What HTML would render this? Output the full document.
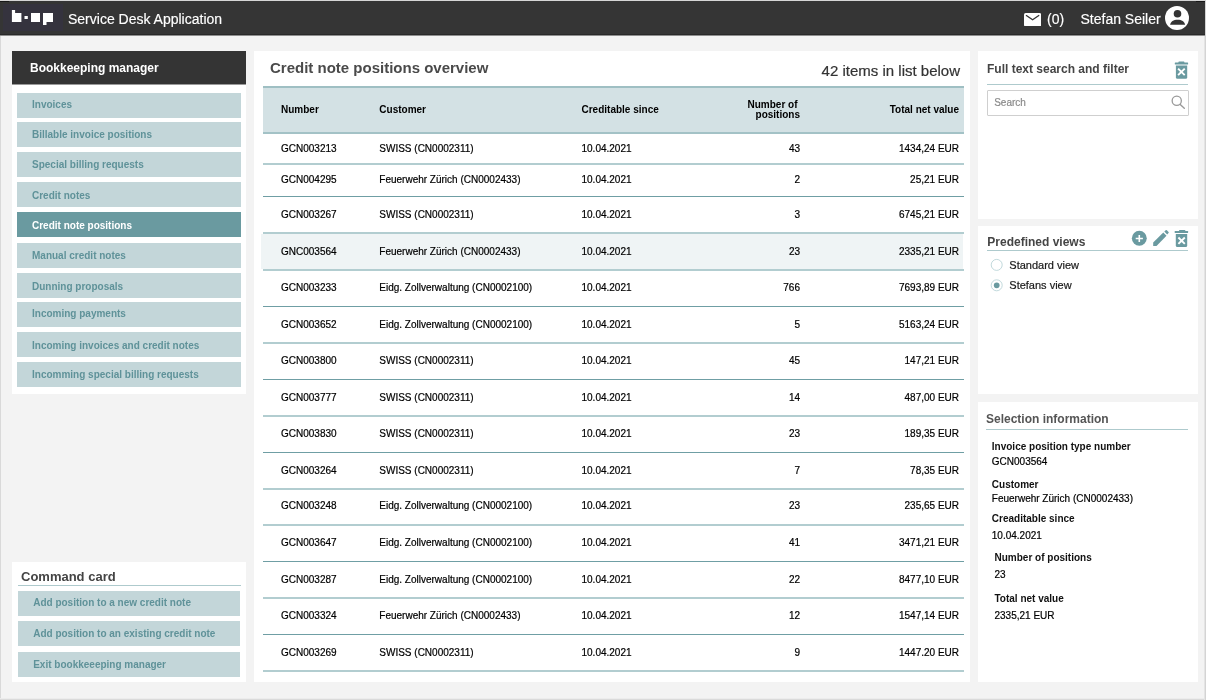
<!DOCTYPE html>
<html><head><meta charset="utf-8">
<style>
*{margin:0;padding:0;box-sizing:border-box}
html,body{width:1206px;height:700px;overflow:hidden}
body{background:#f3f3f3;font-family:"Liberation Sans",Arial,Helvetica,sans-serif;position:relative;color:#111}
.a{position:absolute}
.frameL{left:0;top:35px;width:1px;height:665px;background:#d9d9d9}
.frameR{left:1205px;top:0;width:1px;height:700px;background:#d4d4d4}
.frameR2{left:1204px;top:35px;width:1px;height:665px;background:#e4e4e4}
.frameB{left:0;top:699px;width:1206px;height:1px;background:#dadada}
.frameB2{left:0;top:698px;width:1206px;height:1px;background:#ececec}
.topbar{left:0;top:1px;width:1205px;height:34px;background:#353535;border-bottom:1px solid #292929}
.topbar2{left:0;top:35px;width:1205px;height:1px;background:#8e8e8e}
.topline{top:1px;height:1px;background:#181818}
.logo{left:3px;top:4px;width:60px;height:27px;background:#35333e}
.bar-t{color:#fff;-webkit-text-stroke:0.15px;font-size:14px;line-height:16px;white-space:nowrap}
.panel{background:#fff}
.nav{left:17px;width:224px;background:#c3d6d9;color:#5f9299;font-weight:bold;font-size:10px;line-height:12px;padding-left:15px;white-space:nowrap}
.nav.act{background:#6a9aa0;color:#fff}
.ptitle{font-weight:bold;font-size:12px;color:#454545;white-space:nowrap;line-height:14px}
.uline{height:1px;background:#aecacd}
.th{font-weight:bold;font-size:10px;color:#000;line-height:12px;white-space:nowrap}
.td{font-size:10px;color:#000;-webkit-text-stroke:0.2px;line-height:12px;white-space:nowrap}
.r{text-align:right}
.lbl{font-weight:bold;font-size:10px;color:#111;line-height:12px;white-space:nowrap}
.val{font-size:10px;color:#000;-webkit-text-stroke:0.2px;line-height:12px;white-space:nowrap}
.rg{-webkit-text-stroke:0.2px}
#root{position:absolute;left:0;top:0;width:1206px;height:700px;will-change:transform}
</style></head><body>
<div id="root">
<div class="a" style="left:0;top:0;width:1206px;height:1px;background:#d6d6d6"></div>
<div class="a frameL"></div>
<div class="a frameB2"></div>
<div class="a frameB"></div>
<div class="a frameR2"></div>

<!-- TOP BAR -->
<div class="a topbar"></div>
<div class="a topbar2"></div>
<div class="a topline" style="left:0;width:9px"></div>
<div class="a topline" style="left:1196px;width:9px"></div>
<div class="a frameR"></div>
<div class="a logo"></div>
<svg class="a" style="left:0;top:0" width="70" height="35" viewBox="0 0 70 35">
  <path fill="#fff" d="M11.9 9.9h3.2v3.1H21.4v8.9h-9.5z"/>
  <rect fill="#fff" x="24.5" y="16" width="3.3" height="3"/>
  <rect fill="#fff" x="31" y="13" width="9" height="9"/>
  <path fill="#fff" d="M43 13h10v9h-6.5v3H43z"/>
</svg>
<div class="a bar-t" style="left:68px;top:11px">Service Desk Application</div>
<svg class="a" style="left:1024px;top:12.8px" width="17.2" height="13.4" viewBox="0 0 17.2 13.4">
  <rect x="0" y="0" width="17.2" height="13.4" rx="1.6" fill="#fff"/>
  <path d="M2 2.2 L8.6 6.7 L15.2 2.2" fill="none" stroke="#333" stroke-width="1.3"/>
</svg>
<div class="a bar-t" style="left:1047px;top:11px">(0)</div>
<div class="a bar-t" style="left:1080.5px;top:11px">Stefan Seiler</div>
<svg class="a" style="left:1164.8px;top:6.1px" width="24" height="24" viewBox="0 0 24 24">
  <circle cx="12" cy="12" r="12" fill="#fff"/>
  <circle cx="12.5" cy="7.8" r="3.8" fill="#333"/>
  <path d="M5.1 18.8 C5.6 15.5 8.5 13.7 12.6 13.7 C16.7 13.7 19.6 15.5 20.1 18.8 Z" fill="#333"/>
</svg>

<!-- LEFT PANEL -->
<div class="a panel" style="left:12px;top:51px;width:234px;height:343px"></div>
<div class="a" style="left:12px;top:51px;width:234px;height:33px;background:#343434"></div>
<div class="a" style="left:12px;top:84px;width:234px;height:1px;background:#9a9a9a"></div>
<div class="a" style="left:30px;top:61px;color:#fff;font-weight:bold;font-size:12px;line-height:14px;white-space:nowrap">Bookkeeping manager</div>
<div class="a nav" style="top:93px;height:24.85px;padding-top:6px">Invoices</div>
<div class="a nav" style="top:122.1px;height:24.9px;padding-top:6.5px">Billable invoice positions</div>
<div class="a nav" style="top:152.1px;height:24.9px;padding-top:6.8px">Special billing requests</div>
<div class="a nav" style="top:182.3px;height:24.8px;padding-top:7.7px">Credit notes</div>
<div class="a nav act" style="top:212.1px;height:24.9px;padding-top:7.7px">Credit note positions</div>
<div class="a nav" style="top:243px;height:24.7px;padding-top:7px">Manual credit notes</div>
<div class="a nav" style="top:272.9px;height:24.8px;padding-top:8.0px">Dunning proposals</div>
<div class="a nav" style="top:302.3px;height:24.4px;padding-top:5.5px">Incoming payments</div>
<div class="a nav" style="top:332.1px;height:24.8px;padding-top:7.9px">Incoming invoices and credit notes</div>
<div class="a nav" style="top:362.3px;height:24.4px;padding-top:6.7px">Incomming special billing requests</div>

<!-- COMMAND CARD -->
<div class="a panel" style="left:12px;top:562px;width:234px;height:120px"></div>
<div class="a" style="left:21px;top:570px;font-weight:bold;font-size:13px;color:#444;line-height:14px;white-space:nowrap">Command card</div>
<div class="a uline" style="left:18px;top:585px;width:222.8px"></div>
<div class="a nav" style="left:18.2px;width:221.8px;top:590.7px;height:24.9px;padding-top:6.3px;padding-left:15px">Add position to a new credit note</div>
<div class="a nav" style="left:18.2px;width:221.8px;top:621.1px;height:24.6px;padding-top:6.9px;padding-left:15px">Add position to an existing credit note</div>
<div class="a nav" style="left:18.2px;width:221.8px;top:652.1px;height:24.9px;padding-top:6.9px;padding-left:15px">Exit bookkeeeping manager</div>

<!-- CENTER PANEL -->
<div class="a panel" style="left:254px;top:51px;width:716px;height:631px"></div>
<div class="a" style="left:270px;top:59px;font-weight:bold;font-size:15px;color:#4a4a4a;line-height:17px;white-space:nowrap">Credit note positions overview</div>
<div class="a rg" style="left:760px;width:200px;top:62px;font-size:15px;color:#333;line-height:17px;text-align:right;white-space:nowrap">42 items in list below</div>

<!-- TABLE -->
<div class="a" style="left:263px;top:86px;width:701px;height:48px;background:#d3e1e4;border-top:2px solid #9fbfc3;border-bottom:2px solid #a3c2c6"></div>
<div class="a th" style="left:281px;top:104px">Number</div>
<div class="a th" style="left:379.3px;top:104px">Customer</div>
<div class="a th" style="left:581.5px;top:104px">Creditable since</div>
<div class="a th r" style="left:697.5px;width:100px;top:99px">Number of</div>
<div class="a th r" style="left:700px;width:100px;top:108.5px">positions</div>
<div class="a th r" style="left:859px;width:100px;top:104px">Total net value</div>

<!--ROWS-->
<div class="a td" style="left:281px;top:143px">GCN003213</div>
<div class="a td" style="left:379.3px;top:143px">SWISS (CN0002311)</div>
<div class="a td" style="left:581.5px;top:143px">10.04.2021</div>
<div class="a td r" style="left:700px;width:100px;top:143px">43</div>
<div class="a td r" style="left:859px;width:100px;top:143px">1434,24 EUR</div>
<div class="a td" style="left:281px;top:174px">GCN004295</div>
<div class="a td" style="left:379.3px;top:174px">Feuerwehr Zürich (CN0002433)</div>
<div class="a td" style="left:581.5px;top:174px">10.04.2021</div>
<div class="a td r" style="left:700px;width:100px;top:174px">2</div>
<div class="a td r" style="left:859px;width:100px;top:174px">25,21 EUR</div>
<div class="a td" style="left:281px;top:209px">GCN003267</div>
<div class="a td" style="left:379.3px;top:209px">SWISS (CN0002311)</div>
<div class="a td" style="left:581.5px;top:209px">10.04.2021</div>
<div class="a td r" style="left:700px;width:100px;top:209px">3</div>
<div class="a td r" style="left:859px;width:100px;top:209px">6745,21 EUR</div>
<div class="a" style="left:261px;top:234px;width:702px;height:35px;background:#eff4f5"></div>
<div class="a td" style="left:281px;top:246px">GNC003564</div>
<div class="a td" style="left:379.3px;top:246px">Feuerwehr Zürich (CN0002433)</div>
<div class="a td" style="left:581.5px;top:246px">10.04.2021</div>
<div class="a td r" style="left:700px;width:100px;top:246px">23</div>
<div class="a td r" style="left:859px;width:100px;top:246px">2335,21 EUR</div>
<div class="a td" style="left:281px;top:282px">GCN003233</div>
<div class="a td" style="left:379.3px;top:282px">Eidg. Zollverwaltung (CN0002100)</div>
<div class="a td" style="left:581.5px;top:282px">10.04.2021</div>
<div class="a td r" style="left:700px;width:100px;top:282px">766</div>
<div class="a td r" style="left:859px;width:100px;top:282px">7693,89 EUR</div>
<div class="a td" style="left:281px;top:319px">GCN003652</div>
<div class="a td" style="left:379.3px;top:319px">Eidg. Zollverwaltung (CN0002100)</div>
<div class="a td" style="left:581.5px;top:319px">10.04.2021</div>
<div class="a td r" style="left:700px;width:100px;top:319px">5</div>
<div class="a td r" style="left:859px;width:100px;top:319px">5163,24 EUR</div>
<div class="a td" style="left:281px;top:355px">GCN003800</div>
<div class="a td" style="left:379.3px;top:355px">SWISS (CN0002311)</div>
<div class="a td" style="left:581.5px;top:355px">10.04.2021</div>
<div class="a td r" style="left:700px;width:100px;top:355px">45</div>
<div class="a td r" style="left:859px;width:100px;top:355px">147,21 EUR</div>
<div class="a td" style="left:281px;top:392px">GCN003777</div>
<div class="a td" style="left:379.3px;top:392px">SWISS (CN0002311)</div>
<div class="a td" style="left:581.5px;top:392px">10.04.2021</div>
<div class="a td r" style="left:700px;width:100px;top:392px">14</div>
<div class="a td r" style="left:859px;width:100px;top:392px">487,00 EUR</div>
<div class="a td" style="left:281px;top:428px">GCN003830</div>
<div class="a td" style="left:379.3px;top:428px">SWISS (CN0002311)</div>
<div class="a td" style="left:581.5px;top:428px">10.04.2021</div>
<div class="a td r" style="left:700px;width:100px;top:428px">23</div>
<div class="a td r" style="left:859px;width:100px;top:428px">189,35 EUR</div>
<div class="a td" style="left:281px;top:465px">GCN003264</div>
<div class="a td" style="left:379.3px;top:465px">SWISS (CN0002311)</div>
<div class="a td" style="left:581.5px;top:465px">10.04.2021</div>
<div class="a td r" style="left:700px;width:100px;top:465px">7</div>
<div class="a td r" style="left:859px;width:100px;top:465px">78,35 EUR</div>
<div class="a td" style="left:281px;top:500px">GCN003248</div>
<div class="a td" style="left:379.3px;top:500px">Eidg. Zollverwaltung (CN0002100)</div>
<div class="a td" style="left:581.5px;top:500px">10.04.2021</div>
<div class="a td r" style="left:700px;width:100px;top:500px">23</div>
<div class="a td r" style="left:859px;width:100px;top:500px">235,65 EUR</div>
<div class="a td" style="left:281px;top:537px">GCN003647</div>
<div class="a td" style="left:379.3px;top:537px">Eidg. Zollverwaltung (CN0002100)</div>
<div class="a td" style="left:581.5px;top:537px">10.04.2021</div>
<div class="a td r" style="left:700px;width:100px;top:537px">41</div>
<div class="a td r" style="left:859px;width:100px;top:537px">3471,21 EUR</div>
<div class="a td" style="left:281px;top:574px">GCN003287</div>
<div class="a td" style="left:379.3px;top:574px">Eidg. Zollverwaltung (CN0002100)</div>
<div class="a td" style="left:581.5px;top:574px">10.04.2021</div>
<div class="a td r" style="left:700px;width:100px;top:574px">22</div>
<div class="a td r" style="left:859px;width:100px;top:574px">8477,10 EUR</div>
<div class="a td" style="left:281px;top:610px">GCN003324</div>
<div class="a td" style="left:379.3px;top:610px">Feuerwehr Zürich (CN0002433)</div>
<div class="a td" style="left:581.5px;top:610px">10.04.2021</div>
<div class="a td r" style="left:700px;width:100px;top:610px">12</div>
<div class="a td r" style="left:859px;width:100px;top:610px">1547,14 EUR</div>
<div class="a td" style="left:281px;top:647px">GCN003269</div>
<div class="a td" style="left:379.3px;top:647px">SWISS (CN0002311)</div>
<div class="a td" style="left:581.5px;top:647px">10.04.2021</div>
<div class="a td r" style="left:700px;width:100px;top:647px">9</div>
<div class="a td r" style="left:859px;width:100px;top:647px">1447.20 EUR</div>
<div class="a" style="left:263px;top:163px;width:701px;height:2px;background:#b2cdd0"></div>
<div class="a" style="left:263px;top:196px;width:701px;height:1px;background:#6f9ea4"></div>
<div class="a" style="left:263px;top:232px;width:701px;height:2px;background:#b2cdd0"></div>
<div class="a" style="left:263px;top:269px;width:701px;height:2px;background:#b2cdd0"></div>
<div class="a" style="left:263px;top:306px;width:701px;height:1px;background:#6f9ea4"></div>
<div class="a" style="left:263px;top:342px;width:701px;height:2px;background:#b2cdd0"></div>
<div class="a" style="left:263px;top:379px;width:701px;height:1px;background:#6f9ea4"></div>
<div class="a" style="left:263px;top:415px;width:701px;height:2px;background:#b2cdd0"></div>
<div class="a" style="left:263px;top:452px;width:701px;height:1px;background:#6f9ea4"></div>
<div class="a" style="left:263px;top:488px;width:701px;height:2px;background:#b2cdd0"></div>
<div class="a" style="left:263px;top:524px;width:701px;height:2px;background:#b2cdd0"></div>
<div class="a" style="left:263px;top:561px;width:701px;height:1px;background:#6f9ea4"></div>
<div class="a" style="left:263px;top:597px;width:701px;height:2px;background:#b2cdd0"></div>
<div class="a" style="left:263px;top:634px;width:701px;height:1px;background:#6f9ea4"></div>
<div class="a" style="left:263px;top:670px;width:701px;height:2px;background:#b2cdd0"></div>
<!--/ROWS-->

<!-- RIGHT PANELS -->
<div class="a panel" style="left:978px;top:51px;width:220px;height:168px"></div>
<div class="a ptitle" style="left:987px;top:62px">Full text search and filter</div>
<div class="a uline" style="left:987px;top:84px;width:201.3px"></div>
<div class="a" style="left:987px;top:90px;width:202px;height:26px;border:1px solid #cfcfcf;border-radius:1px"></div>
<div class="a rg" style="left:994.2px;top:97px;font-size:10px;color:#8a8a8a;line-height:12px">Search</div>
<svg class="a" style="left:1170px;top:94px" width="16" height="16" viewBox="0 0 16 16">
  <circle cx="6.75" cy="6.75" r="4.6" fill="none" stroke="#9a9a9a" stroke-width="1.3"/>
  <path d="M10.2 10.4 L14.3 14.2" stroke="#9a9a9a" stroke-width="1.4" stroke-linecap="round"/>
</svg>
<svg class="a" style="left:1174px;top:61px" width="15" height="19" viewBox="0 0 15 19">
  <rect x="4.4" y="0.6" width="6" height="2" rx="0.6" fill="#6a9aa0"/>
  <rect x="0.8" y="1.6" width="13.3" height="2" rx="0.5" fill="#6a9aa0"/>
  <path d="M1.9 4.5 H13.2 V16.2 Q13.2 17.7 11.7 17.7 H3.4 Q1.9 17.7 1.9 16.2 Z" fill="#6a9aa0"/>
  <path d="M4.1 7.6 L10.7 14.2 M10.7 7.6 L4.1 14.2" stroke="#fff" stroke-width="1.9"/>
</svg>

<div class="a panel" style="left:978px;top:226px;width:220px;height:168px"></div>
<div class="a ptitle" style="left:987.3px;top:235px">Predefined views</div>
<div class="a uline" style="left:987px;top:250px;width:201.4px"></div>
<svg class="a" style="left:1131px;top:230px" width="60" height="18" viewBox="0 0 60 18">
  <circle cx="8.3" cy="8.2" r="7.45" fill="#6a9aa0"/>
  <path d="M8.3 5 V11.9 M4.7 8.5 H11.9" stroke="#fff" stroke-width="1.6"/>
  <path d="M22.2 15.9 L22.2 12.6 L32.3 2.6 L35.5 5.8 L25.5 15.9 Z" fill="#6a9aa0"/>
  <path d="M33.3 1.6 L34.7 0.3 Q35.3 -0.2 35.9 0.3 L37.5 1.9 Q38 2.5 37.5 3.1 L36.2 4.5 Z" fill="#6a9aa0"/>
  <rect x="48" y="0" width="6.3" height="2" rx="0.6" fill="#6a9aa0"/>
  <rect x="43.7" y="1" width="13.4" height="1.9" rx="0.5" fill="#6a9aa0"/>
  <path d="M44.8 4 H56.2 V15.6 Q56.2 17.1 54.7 17.1 H46.3 Q44.8 17.1 44.8 15.6 Z" fill="#6a9aa0"/>
  <path d="M47.4 7.5 L53.8 13.9 M53.8 7.5 L47.4 13.9" stroke="#fff" stroke-width="1.9"/>
</svg>
<svg class="a" style="left:990px;top:258px" width="14" height="34" viewBox="0 0 14 34">
  <circle cx="6.7" cy="6.9" r="5.5" fill="#fff" stroke="#b3cfd3" stroke-width="0.8"/>
  <circle cx="6.7" cy="27.3" r="5.5" fill="#fff" stroke="#b3cfd3" stroke-width="0.8"/>
  <circle cx="6.7" cy="27.3" r="2.85" fill="#6a9aa0"/>
</svg>
<div class="a rg" style="left:1009.3px;top:259px;font-size:11px;color:#1a1a1a;line-height:13px;white-space:nowrap">Standard view</div>
<div class="a rg" style="left:1009.3px;top:279px;font-size:11px;color:#1a1a1a;line-height:13px;white-space:nowrap">Stefans view</div>

<div class="a panel" style="left:978px;top:402px;width:220px;height:280px"></div>
<div class="a ptitle" style="left:986px;top:412px;color:#555">Selection information</div>
<div class="a uline" style="left:986px;top:429px;width:201.5px"></div>
<div class="a lbl" style="left:991.8px;top:441px">Invoice position type number</div>
<div class="a val" style="left:991.8px;top:456px">GCN003564</div>
<div class="a lbl" style="left:991.8px;top:479px">Customer</div>
<div class="a val" style="left:991.8px;top:493px">Feuerwehr Zürich (CN0002433)</div>
<div class="a lbl" style="left:991.8px;top:513px">Creaditable since</div>
<div class="a val" style="left:991.8px;top:530px">10.04.2021</div>
<div class="a lbl" style="left:994.5px;top:552px">Number of positions</div>
<div class="a val" style="left:994.5px;top:569px">23</div>
<div class="a lbl" style="left:994.5px;top:593px">Total net value</div>
<div class="a val" style="left:994.5px;top:610px">2335,21 EUR</div>

</div>
</body></html>
